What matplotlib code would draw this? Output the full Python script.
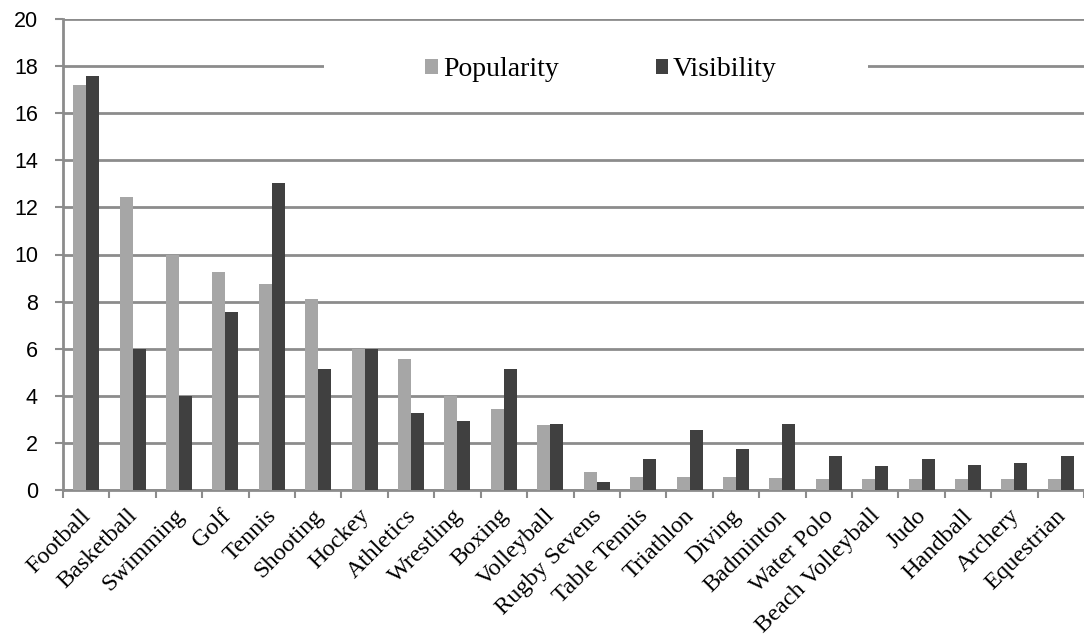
import matplotlib
matplotlib.use("Agg")
import matplotlib.pyplot as plt
import numpy as np
from matplotlib.patches import Rectangle

sports = ["Football", "Basketball", "Swimming", "Golf", "Tennis", "Shooting",
          "Hockey", "Athletics", "Wrestling", "Boxing", "Volleyball",
          "Rugby Sevens", "Table Tennis", "Triathlon", "Diving", "Badminton",
          "Water Polo", "Beach Volleyball", "Judo", "Handball", "Archery",
          "Equestrian"]
popularity = [17.2, 12.45, 10.0, 9.25, 8.75, 8.1, 6.0, 5.55, 4.0, 3.45, 2.75,
              0.75, 0.55, 0.55, 0.55, 0.5, 0.45, 0.45, 0.45, 0.45, 0.45, 0.45]
visibility = [17.6, 6.0, 4.0, 7.55, 13.05, 5.15, 6.0, 3.25, 2.95, 5.15, 2.8,
              0.35, 1.3, 2.55, 1.75, 2.8, 1.45, 1.0, 1.3, 1.05, 1.15, 1.45]
y_ticks = list(range(0, 21, 2))

grid_col = "#8c8c8c"
pop_col = "#a6a6a6"
vis_col = "#404040"
serif = "Liberation Serif"

fig = plt.figure(figsize=(10.84, 6.4), dpi=100)
ax = fig.add_axes([63 / 1084, 1 - 490 / 640, 1 - 63 / 1084, 471 / 640])

x = np.arange(len(sports))
w = 0.28
ax.bar(x - w / 2, popularity, w, color=pop_col, label="Popularity", zorder=3)
ax.bar(x + w / 2, visibility, w, color=vis_col, label="Visibility", zorder=3)

ax.set_xlim(-0.5, len(sports) - 0.5)
ax.set_ylim(0, 20)
ax.set_yticks(y_ticks)
ax.yaxis.grid(True, color=grid_col, linewidth=2, zorder=1)
ax.set_axisbelow(True)

for s in ["top", "right"]:
    ax.spines[s].set_visible(False)
for s in ["left", "bottom"]:
    ax.spines[s].set_color(grid_col)
    ax.spines[s].set_linewidth(2)

ax.tick_params(axis="y", length=6, width=1.5, color=grid_col, pad=12,
               labelsize=15.5)
for lab in ax.get_yticklabels():
    lab.set_fontfamily("Liberation Sans")

# category labels at centres, tick marks at the category boundaries
ax.set_xticks(x)
ax.set_xticklabels(sports, rotation=45, ha="right", va="center_baseline",
                   rotation_mode="anchor", fontsize=17.5, fontfamily=serif)
ax.tick_params(axis="x", which="major", length=0, pad=15)
ax.set_xticks(np.arange(-0.5, len(sports), 1), minor=True)
ax.tick_params(axis="x", which="minor", length=6, width=1.5, color=grid_col)

# white backing behind the legend, breaking the 18 gridline
ax.add_patch(Rectangle(((324 - 63) / 1021, 0.85), (868 - 324) / 1021, 0.08,
                       transform=ax.transAxes, facecolor="white",
                       edgecolor="none", zorder=4))
leg = ax.legend(loc="center", bbox_to_anchor=(0.527, 0.892), ncol=2,
                frameon=False, prop={"family": serif, "size": 20},
                handlelength=0.45, handleheight=0.45, handletextpad=0.18,
                columnspacing=3.5)
leg.set_zorder(5)

fig.savefig("out.png", dpi=100)
